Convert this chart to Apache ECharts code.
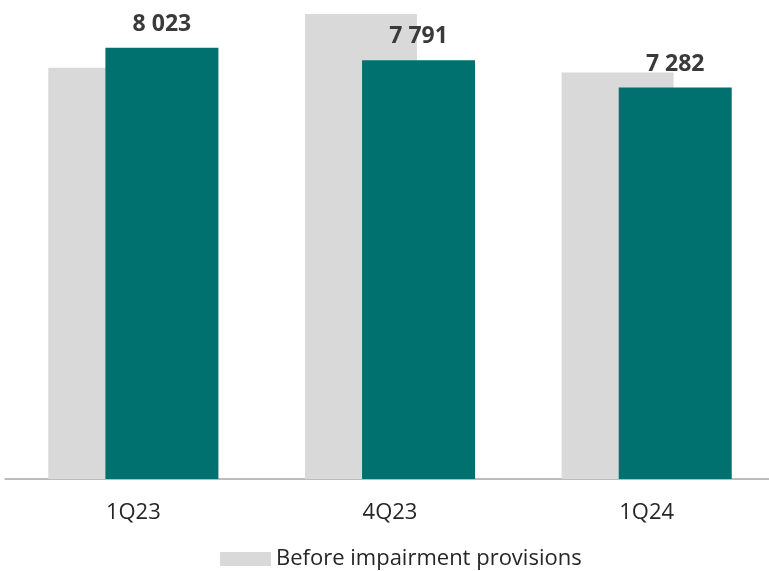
<!DOCTYPE html>
<html>
<head>
<meta charset="utf-8">
<script src="https://cdn.jsdelivr.net/npm/echarts@6/dist/echarts.min.js"></script>
<style>
html,body{margin:0;padding:0;background:#fff;}
#chart{width:769px;height:571px;}
</style>
</head>
<body>
<div id="chart"></div>
<script>
const categories = ['1Q23', '4Q23', '1Q24'];
const beforeImpairment = [7650, 8650, 7565];
const afterImpairment = [8023, 7791, 7282];
const legendLabel = 'Before impairment provisions';

function fmt(v) {
  return String(v).replace(/\B(?=(\d{3})+(?!\d))/g, ' ');
}

const chart = echarts.init(document.getElementById('chart'), null, {renderer: 'canvas'});
chart.setOption({
  animation: false,
  backgroundColor: '#ffffff',
  textStyle: {fontFamily: 'Open Sans'},
  grid: {left: 5, width: 770, top: 6, height: 473, containLabel: false, outerBoundsMode: 'none'},
  legend: {
    data: [legendLabel],
    left: 215,
    top: 543,
    itemWidth: 51,
    itemHeight: 14,
    itemGap: 10,
    textStyle: {fontSize: 22, color: '#262626', fontFamily: 'Open Sans'},
    icon: 'rect'
  },
  xAxis: {
    type: 'category',
    data: categories,
    axisLine: {show: true, lineStyle: {color: '#a6a6a6', width: 1.5}},
    axisTick: {show: false},
    axisLabel: {fontSize: 22, color: '#262626', margin: 23, fontFamily: 'Open Sans'}
  },
  yAxis: {
    type: 'value',
    min: 0,
    max: 8800,
    show: false,
    splitLine: {show: false}
  },
  series: [
    {
      name: legendLabel,
      type: 'bar',
      data: beforeImpairment,
      barWidth: 112,
      barGap: '-49%',
      itemStyle: {color: '#d9d9d9'},
      label: {show: false}
    },
    {
      name: 'After impairment provisions',
      type: 'bar',
      data: afterImpairment,
      barWidth: 113,
      itemStyle: {color: '#00716f'},
      label: {
        show: true,
        position: 'top',
        distance: 12,
        fontSize: 23,
        fontWeight: 'bold',
        color: '#3a3a3a',
        fontFamily: 'Open Sans',
        formatter: p => fmt(p.value)
      }
    }
  ]
});
</script>
</body>
</html>
